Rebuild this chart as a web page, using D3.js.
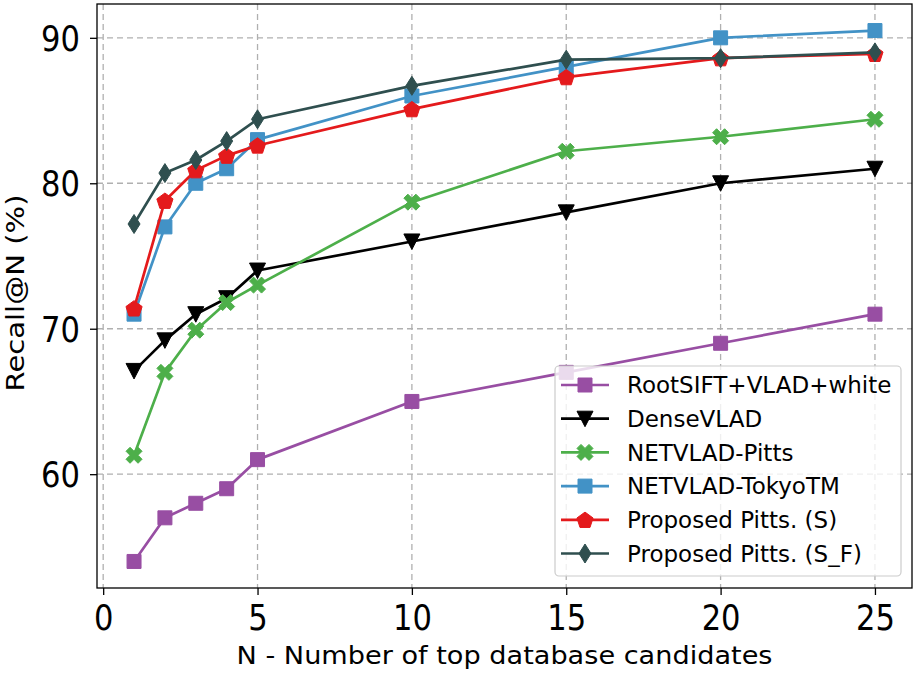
<!DOCTYPE html>
<html><head><meta charset="utf-8">
<script src="https://cdn.jsdelivr.net/npm/d3@7"></script>
<style>body{margin:0;background:#fff} svg{display:block}</style>
</head><body><svg id="c" width="917" height="673"></svg>
<script>
const xValues = [1, 2, 3, 4, 5, 10, 15, 20, 25];
const rootsift = [54, 57, 58, 59, 61, 65, 67, 69, 71];
const denseVlad = [67.1, 69.2, 71, 72.1, 74, 76, 78, 80, 81];
const netvladPitts = [61.3, 67, 69.9, 71.8, 73, 78.7, 82.2, 83.2, 84.4];
const netvladTokyo = [71, 77, 80, 81, 83, 86, 88, 90, 90.5];
const proposedS = [71.4, 78.8, 80.9, 81.9, 82.6, 85.1, 87.3, 88.6, 88.9];
const proposedSF = [77.2, 80.7, 81.6, 82.9, 84.4, 86.7, 88.5, 88.6, 89.0];
const seriesNames = ["RootSIFT+VLAD+white", "DenseVLAD", "NETVLAD-Pitts", "NETVLAD-TokyoTM", "Proposed Pitts. (S)", "Proposed Pitts. (S_F)"];
const seriesColors = ["#984ea3", "#000000", "#4daf4a", "#4292c6", "#e41a1c", "#2f4f4f"];
const seriesMarkers = ["square", "triangleDown", "xFilled", "square", "pentagon", "thinDiamond"];
const xTicks = [0, 5, 10, 15, 20, 25];
const yTicks = [60, 70, 80, 90];
const xLabel = "N - Number of top database candidates";
const yLabel = "Recall@N (%)";

const seriesValues = [rootsift, denseVlad, netvladPitts, netvladTokyo, proposedS, proposedSF];
const series = seriesNames.map((name, i) => ({
  name, color: seriesColors[i], marker: seriesMarkers[i],
  points: xValues.map((x, j) => ({x, y: seriesValues[i][j]}))
}));

const svg = d3.select("#c");
const L = 97, R = 912, T = 4, B = 588;
const x = d3.scaleLinear().domain([-0.2, 26.2]).range([L, R]);
const y = d3.scaleLinear().domain([52.175, 92.325]).range([B, T]);
const FONT = "DejaVu Sans, Verdana, sans-serif";

function markerPath(type) {
  switch (type) {
    case "square": return "M-7,-7H7V7H-7Z";
    case "triangleDown": return "M-8,-7.5L8,-7.5L0,8Z";
    case "thinDiamond": return "M0,-9.5L6,0L0,9.5L-6,0Z";
    case "pentagon": {
      const r = 8.5; const pts = d3.range(5).map(k => {
        const a = -Math.PI / 2 + k * 2 * Math.PI / 5;
        return [r * Math.cos(a), r * Math.sin(a) + 0.8];
      });
      return "M" + pts.map(p => p.join(",")).join("L") + "Z";
    }
    case "xFilled": {
      const u = 4;
      const pts = [[-1,-2],[0,-1],[1,-2],[2,-1],[1,0],[2,1],[1,2],[0,1],[-1,2],[-2,1],[-1,0],[-2,-1]];
      return "M" + pts.map(p => [p[0]*u, p[1]*u].join(",")).join("L") + "Z";
    }
  }
}

// grid
const grid = svg.append("g");
grid.selectAll("line.gx").data(xTicks).join("line")
  .attr("x1", d => x(d)).attr("x2", d => x(d)).attr("y1", T).attr("y2", B)
  .attr("stroke", "#b0b0b0").attr("stroke-width", 1.3).attr("stroke-dasharray", "6,4");
grid.selectAll("line.gy").data(yTicks).join("line")
  .attr("y1", d => y(d)).attr("y2", d => y(d)).attr("x1", L).attr("x2", R)
  .attr("stroke", "#b0b0b0").attr("stroke-width", 1.3).attr("stroke-dasharray", "6,4");

// series
const line = d3.line().x(d => x(d.x)).y(d => y(d.y));
series.forEach(s => {
  const g = svg.append("g");
  g.append("path").attr("d", line(s.points)).attr("fill", "none")
    .attr("stroke", s.color).attr("stroke-width", 2.7).attr("stroke-linejoin", "round");
  g.selectAll("path.m").data(s.points).join("path")
    .attr("d", markerPath(s.marker))
    .attr("transform", d => `translate(${x(d.x)},${y(d.y)})`)
    .attr("fill", s.color).attr("stroke", s.color).attr("stroke-width", 1);
});

// axes
const xAxis = svg.append("g").attr("transform", `translate(0,${B})`)
  .call(d3.axisBottom(x).tickValues(xTicks).tickSize(7).tickPadding(9).tickFormat(d3.format("d")));
const yAxis = svg.append("g").attr("transform", `translate(${L},0)`)
  .call(d3.axisLeft(y).tickValues(yTicks).tickSize(7).tickPadding(10).tickFormat(d3.format("d")));
[xAxis, yAxis].forEach(a => {
  a.select(".domain").remove();
  a.selectAll(".tick line").attr("stroke", "#000").attr("stroke-width", 1.3);
  a.selectAll("text").attr("font-family", FONT).attr("font-size", 36).attr("fill", "#000");
});
yAxis.selectAll("text").attr("dy", "0.35em");
[xAxis, yAxis].forEach(a => a.selectAll("text").each(function () {
  const w = this.getComputedTextLength();
  d3.select(this).attr("textLength", w * 0.85).attr("lengthAdjust", "spacingAndGlyphs");
}));

// frame
svg.append("rect").attr("x", L).attr("y", T).attr("width", R - L).attr("height", B - T)
  .attr("fill", "none").attr("stroke", "#000").attr("stroke-width", 1.3);

// axis titles
svg.append("text").attr("x", (L + R) / 2).attr("y", 664).attr("text-anchor", "middle")
  .attr("font-family", FONT).attr("font-size", 25).attr("fill", "#000")
  .attr("textLength", 536).attr("lengthAdjust", "spacingAndGlyphs").text(xLabel);
svg.append("text").attr("transform", `translate(24,${(T + B) / 2 - 3}) rotate(-90)`)
  .attr("text-anchor", "middle")
  .attr("font-family", FONT).attr("font-size", 25).attr("fill", "#000")
  .attr("textLength", 197).attr("lengthAdjust", "spacingAndGlyphs").text(yLabel);

// legend
const lg = svg.append("g");
lg.append("rect").attr("x", 555).attr("y", 366).attr("width", 346).attr("height", 210)
  .attr("rx", 4).attr("fill", "#fff").attr("fill-opacity", 0.8)
  .attr("stroke", "#cccccc").attr("stroke-width", 1.2);
series.forEach((s, i) => {
  const cy = 385 + i * 33.7;
  const g = lg.append("g");
  g.append("line").attr("x1", 561).attr("x2", 609).attr("y1", cy).attr("y2", cy)
    .attr("stroke", s.color).attr("stroke-width", 2.7);
  g.append("path").attr("d", markerPath(s.marker)).attr("transform", `translate(585,${cy})`)
    .attr("fill", s.color).attr("stroke", s.color).attr("stroke-width", 1);
  g.append("text").attr("x", 627).attr("y", cy).attr("dy", "0.36em")
    .attr("font-family", FONT).attr("font-size", 23).attr("fill", "#000").text(s.name);
});
</script>
</body></html>
